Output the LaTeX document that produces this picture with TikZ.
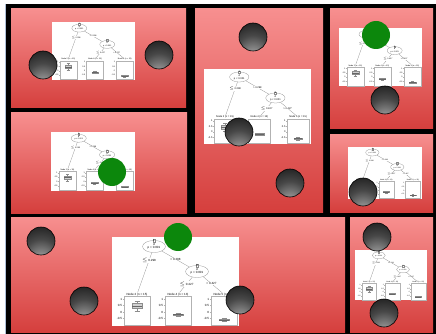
\documentclass[tikz,border=0pt]{standalone}
\usepackage{fontspec}
\usetikzlibrary{shapes.geometric}
\newfontfamily\treefont{Liberation Sans}
\newcommand{\tfont}{\treefont\fontsize{3}{3.4}\selectfont}
\definecolor{ptop}{RGB}{247,143,143}
\definecolor{pbot}{RGB}{213,63,61}
\definecolor{ballgreen}{RGB}{12,135,12}
\definecolor{edgeblue}{RGB}{175,192,215}
\pgfdeclareradialshading{ballsh}{\pgfpoint{0bp}{-40bp}}{color(0bp)=(black!35); color(12bp)=(black!45); color(30bp)=(black!72); color(45bp)=(black!85); color(90bp)=(black!91)}
\tikzset{
  panelbox/.style={top color=ptop, bottom color=pbot},
  tnode/.style={ellipse, draw=black!45, line width=0.25pt, fill=white, minimum width=23pt, minimum height=12pt, inner sep=0pt, align=center, font=\tfont},
  idbox/.style={draw=black!45, fill=white, line width=0.25pt, inner sep=0.4pt, font=\tfont},
  tlab/.style={inner sep=0.3pt, font=\tfont},
  elab/.style={inner sep=0.3pt, fill=white, font=\tfont},
  axlab/.style={inner sep=0.2pt, font=\tfont, anchor=east},
  tedge/.style={draw=black!45, line width=0.25pt},
  tpanel/.style={draw=black!30, line width=0.25pt},
  bx/.style={draw=black!45, fill=black!18, line width=0.25pt},
  bxm/.style={draw=black!60, line width=0.35pt},
  sphere/.style={circle, draw=black, line width=0.6pt, shading=ballsh, minimum size=28pt, inner sep=0pt},
  gball/.style={circle, fill=ballgreen, minimum size=28pt, inner sep=0pt},
  tree/.pic={
    \fill[white] (0,0) rectangle (127,89);
    \node[tnode] (-root) at (42,9.5) {d\\p < 0.001};
    \node[idbox] (-id1) at (42,3.4) {1};
    \node[tnode] (-n3) at (85,34.5) {d\\p < 0.001};
    \node[idbox] (-id3) at (85,28.4) {3};
    \node[tlab] (-h2) at (25,57.3) {Node 2 (n = 15)};
    \node[tlab] (-h4) at (66,57.3) {Node 4 (n = 13)};
    \node[tlab] (-h5) at (112,57.3) {Node 5 (n = 15)};
    \draw[tedge] (-root) -- node[elab,pos=0.2] {$\le$ 0.298} (-h2);
    \draw[tedge] (-root) -- node[elab,pos=0.5] {> 0.298} (-n3);
    \draw[tedge] (-n3) -- node[elab,pos=0.45] {$\le$ 0.427} (-h4);
    \draw[tedge] (-n3) -- node[elab,pos=0.45] {> 0.427} (-h5);
    \foreach \k/\L in {1/12,2/53,3/99}{
      \draw[tpanel] (\L,59.5) rectangle ++(26,28.5);
      \foreach \j/\v in {1/1,2/0.5,3/0,4/-0.5}{
        \draw[tpanel] (\L-1.2,{75-13*\v}) -- (\L,{75-13*\v});
        \node[axlab] (-ax\k\j) at (\L-1.6,{75-13*\v}) {\v};
      }
    }
    % boxplot node 2
    \draw[tedge] (25,64) -- (25,66.5) (25,71.1) -- (25,73.7) (22.5,64) -- (27.5,64) (22.5,73.7) -- (27.5,73.7);
    \filldraw[bx] (20,66.5) rectangle (30,71.1);
    \draw[bxm] (20,68.8) -- (30,68.8);
    % boxplot node 4
    \draw[tedge] (66,76) -- (66,78.9) (63.5,76) -- (68.5,76) (63.5,78.9) -- (68.5,78.9);
    \filldraw[bx] (61,76.7) rectangle (71,78.2);
    \draw[bxm] (61,77.5) -- (71,77.5);
    % boxplot node 5
    \draw[tedge] (112,81.5) -- (112,84.1) (109.5,81.5) -- (114.5,81.5) (109.5,84.1) -- (114.5,84.1);
    \filldraw[bx] (107,82.2) rectangle (117,83.5);
    \draw[bxm] (107,82.9) -- (117,82.9);
  }
}
\begin{document}
\begin{tikzpicture}[x=1pt,y=-1pt]
\useasboundingbox (0,0) rectangle (436,334);
\fill[white] (0,0) rectangle (436,334);
\fill[black] (6,4) rectangle (436,334);
\draw[edgeblue, line width=0.8pt] (5.2,4) -- (5.2,334);
% panels
\shade[panelbox] (11,9) rectangle (186,108);
\shade[panelbox] (11,113) rectangle (187,213);
\shade[panelbox] (195,9) rectangle (323,212);
\shade[panelbox] (330,9) rectangle (433,129);
\shade[panelbox] (330,134) rectangle (433,212);
\shade[panelbox] (11,217) rectangle (345,332);
\shade[panelbox] (350,217) rectangle (433,332);
% trees
\pic[scale=0.65, transform shape] (t1) at (52,22) {tree};
\pic[scale=0.66, transform shape] (t2) at (51,132) {tree};
\pic[scale=0.84, transform shape] (t4) at (204,69) {tree};
\pic[scale=0.655, transform shape] (t5) at (339,28) {tree};
\pic[scale=0.58, transform shape] (t6) at (348,147) {tree};
\pic[scale=1.0, transform shape] (t3) at (112,237) {tree};
\pic[scale=0.565, transform shape] (t7) at (355,250) {tree};
% spheres
\node[sphere] (s1) at (43,65) {};
\node[sphere] (s2) at (159,55) {};
\node[sphere] (s3) at (253,37) {};
\node[sphere] (s4) at (239,132) {};
\node[sphere] (s5) at (290,183) {};
\node[sphere] (s6) at (385,100) {};
\node[sphere] (s7) at (363,192) {};
\node[sphere] (s8) at (41,241) {};
\node[sphere] (s9) at (84,301) {};
\node[sphere] (s10) at (240,300) {};
\node[sphere] (s11) at (377,237) {};
\node[sphere] (s12) at (384,313) {};
% green balls
\node[gball] (g1) at (376,35) {};
\node[gball] (g2) at (112,172) {};
\node[gball] (g3) at (178,237) {};
\end{tikzpicture}
\end{document}
